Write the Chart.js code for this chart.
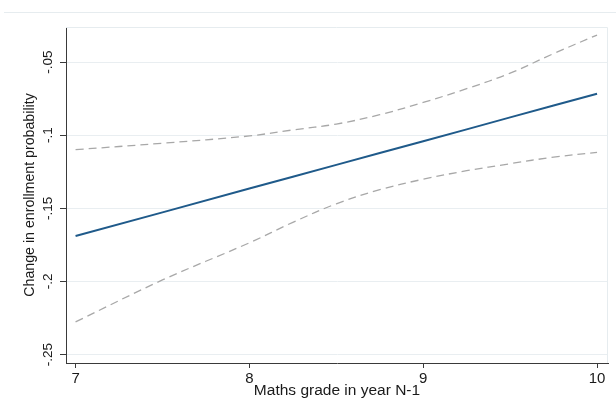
<!DOCTYPE html>
<html>
<head>
<meta charset="utf-8">
<script src="https://cdn.jsdelivr.net/npm/chart.js@4/dist/chart.umd.min.js"></script>
<style>
    html, body { margin: 0; padding: 0; background: #fff; overflow: hidden; }
    .wrap { position: relative; width: 616px; height: 400px; }
    .topline { position: absolute; top: 12px; left: 4px; right: 0; height: 1px; background: #e6ecef; }
</style>
</head>
<body>
<div class="wrap">
    <div class="topline"></div>
    <canvas id="chart"></canvas>
</div>
<script>
// values
const grades = [7, 7.5, 8, 8.25, 8.5, 8.75, 9, 9.25, 9.5, 9.75, 10];
const effect = [-0.1690, -0.1528, -0.1365, -0.1284, -0.1203, -0.1122, -0.1041, -0.0960, -0.0878, -0.0797, -0.0716];
const upperCI = [-0.1099, -0.1055, -0.1005, -0.0964, -0.0924, -0.0860, -0.0776, -0.0682, -0.0576, -0.0442, -0.0315];
const lowerCI = [-0.2277, -0.1990, -0.1736, -0.1596, -0.1469, -0.1373, -0.1301, -0.1243, -0.1195, -0.1150, -0.1118];

const xTicks = [7, 8, 9, 10];
const yTicks = [-0.25, -0.2, -0.15, -0.1, -0.05];

const fontFamily = '"Liberation Sans", Arial, Helvetica, sans-serif';

function toPoints(values) {
    return grades.map((g, i) => ({ x: g, y: values[i] }));
}

// Stata style: -.05 instead of -0.05
function stataLabel(v) {
    let s = String(Math.round(v * 1000) / 1000);
    return s.replace(/^(-?)0\./, '$1.');
}

const plotFrame = {
    id: 'plotFrame',
    beforeDatasetsDraw(chart) {
        const { ctx, chartArea } = chart;
        ctx.save();
        ctx.strokeStyle = '#e6ecef';
        ctx.lineWidth = 1;
        ctx.beginPath();
        ctx.moveTo(chartArea.left, chartArea.top + 0.5);
        ctx.lineTo(chartArea.right - 0.5, chartArea.top + 0.5);
        ctx.lineTo(chartArea.right - 0.5, chartArea.bottom);
        ctx.stroke();
        ctx.restore();
    }
};

const dashed = {
    borderColor: '#a8a8a8',
    borderWidth: 1.3,
    borderDash: [8, 5],
    pointRadius: 0,
    tension: 0.35,
    fill: false
};

new Chart(document.getElementById('chart'), {
    type: 'line',
    data: {
        datasets: [
            { label: 'Upper', data: toPoints(upperCI), ...dashed, order: 2 },
            { label: 'Lower', data: toPoints(lowerCI), ...dashed, order: 2 },
            {
                label: 'Effect',
                data: toPoints(effect),
                borderColor: '#1f5a8a',
                borderWidth: 2,
                pointRadius: 0,
                fill: false,
                order: 1
            }
        ]
    },
    options: {
        responsive: true,
        maintainAspectRatio: false,
        animation: false,
        layout: { padding: { left: 0, top: 27, right: 8, bottom: 0 } },
        plugins: {
            legend: { display: false },
            tooltip: { enabled: false }
        },
        scales: {
            x: {
                type: 'linear',
                min: 6.945,
                max: 10.063,
                afterFit: axis => { axis.height = 37; },
                afterBuildTicks: axis => { axis.ticks = xTicks.map(v => ({ value: v })); },
                border: { color: '#3a3a3a', width: 1 },
                grid: {
                    drawOnChartArea: false,
                    drawTicks: true,
                    tickLength: 5,
                    tickColor: '#3a3a3a'
                },
                ticks: {
                    padding: 2,
                    color: '#1a1a1a',
                    font: { family: fontFamily, size: 15 },
                    maxRotation: 0,
                    callback: v => String(v)
                },
                title: {
                    display: true,
                    text: 'Maths grade in year N-1',
                    color: '#1a1a1a',
                    font: { family: fontFamily, size: 15.5 },
                    padding: { top: 0, bottom: 0 }
                }
            },
            y: {
                type: 'linear',
                min: -0.2558,
                max: -0.026,
                afterFit: axis => { axis.width = 66; },
                afterBuildTicks: axis => { axis.ticks = yTicks.map(v => ({ value: v })); },
                border: { color: '#3a3a3a', width: 1 },
                grid: {
                    color: '#e9eef1',
                    lineWidth: 1,
                    drawTicks: true,
                    tickLength: 6,
                    tickColor: '#3a3a3a'
                },
                ticks: {
                    padding: 0,
                    color: '#1a1a1a',
                    font: { family: fontFamily, size: 13.5 },
                    minRotation: 90,
                    maxRotation: 90,
                    crossAlign: 'center',
                    callback: v => stataLabel(v)
                },
                title: {
                    display: true,
                    text: 'Change in enrollment probability',
                    color: '#1a1a1a',
                    font: { family: fontFamily, size: 14.2 },
                    padding: { top: 22, bottom: 0 }
                }
            }
        }
    },
    plugins: [plotFrame]
});
</script>
</body>
</html>
